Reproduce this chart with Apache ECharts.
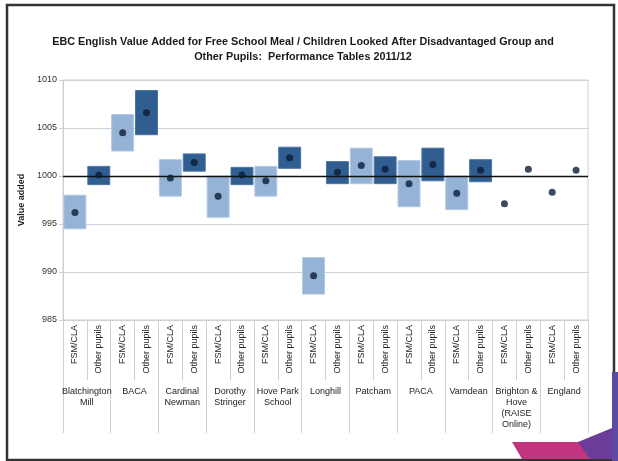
<!DOCTYPE html>
<html>
<head>
<meta charset="utf-8">
<script src="https://cdn.jsdelivr.net/npm/echarts@6/dist/echarts.min.js"></script>
<style>
  html, body { margin: 0; padding: 0; background: #fff; }
  #chart { width: 618px; height: 461px; }
</style>
</head>
<body>
<div id="chart"></div>
<script>
// categories
const groups = ['Blatchington\nMill', 'BACA', 'Cardinal\nNewman', 'Dorothy\nStringer', 'Hove Park\nSchool',
  'Longhill', 'Patcham', 'PACA', 'Varndean', 'Brighton &\nHove\n(RAISE\nOnline)', 'England']
const subLabels = []
groups.forEach(function () { subLabels.push('FSM/CLA', 'Other pupils') })

// value added (dot) and confidence box low/high, in category order
const pointVals = [996.2, 1000.1, 1004.5, 1006.6, 999.8, 1001.4, 997.9, 1000.1, 999.5, 1001.9,
  989.6, 1000.4, 1001.1, 1000.7, 999.2, 1001.2, 998.2, 1000.6, 997.1, 1000.7, 998.3, 1000.6]
const lowVals = [994.5, 999.1, 1002.6, 1004.3, 997.9, 1000.5, 995.7, 999.1, 997.9, 1000.8,
  987.7, 999.2, 999.2, 999.2, 996.8, 999.5, 996.5, 999.4, null, null, null, null]
const highVals = [998.0, 1001.0, 1006.4, 1008.9, 1001.7, 1002.3, 1000.0, 1000.9, 1001.0, 1003.0,
  991.5, 1001.5, 1002.9, 1002.0, 1001.6, 1002.9, 1000.0, 1001.7, null, null, null, null]

const lightBlue = '#95b3d7'
const darkBlue = '#315e90'
const gridColor = '#c9d2da'

const boxData = []
lowVals.forEach(function (lo, i) {
  if (lo !== null) boxData.push([i, lo, highVals[i]])
})

const chart = echarts.init(document.getElementById('chart'))
chart.setOption({
  animation: false,
  title: {
    text: 'EBC English Value Added for Free School Meal / Children Looked After Disadvantaged Group and\nOther Pupils:  Performance Tables 2011/12',
    left: 298,
    textAlign: 'center',
    top: 30,
    textStyle: {
      fontFamily: '"Liberation Sans", Arial',
      fontSize: 10.8,
      fontWeight: 'bold',
      color: '#1a1a1a',
      lineHeight: 15
    }
  },
  grid: {
    left: 63, right: 30, top: 80, bottom: 141,
    show: true, borderColor: gridColor, borderWidth: 1
  },
  xAxis: [
    {
      type: 'category',
      data: subLabels,
      position: 'bottom',
      axisLine: { show: true, lineStyle: { color: gridColor } },
      axisTick: { show: true, interval: 0, length: 60, lineStyle: { color: gridColor } },
      axisLabel: {
        interval: 0, rotate: 90, margin: 5,
        fontFamily: '"Liberation Sans", Arial', fontSize: 9, color: '#222'
      }
    },
    {
      type: 'category',
      data: groups,
      position: 'bottom',
      axisLine: { show: false },
      axisTick: { show: true, interval: 0, length: 113, lineStyle: { color: gridColor } },
      axisLabel: {
        interval: 0, margin: 66, verticalAlign: 'top',
        fontFamily: '"Liberation Sans", Arial', fontSize: 9, color: '#222', lineHeight: 11
      }
    }
  ],
  yAxis: {
    type: 'value',
    min: 985, max: 1010, interval: 5,
    name: 'Value added',
    nameLocation: 'middle',
    nameGap: 34,
    nameRotate: 90,
    nameTextStyle: { fontFamily: '"Liberation Sans", Arial', fontSize: 9, fontWeight: 'bold', color: '#222' },
    axisLine: { show: true, lineStyle: { color: gridColor } },
    axisTick: { show: true, length: 4, lineStyle: { color: gridColor } },
    axisLabel: {
      fontFamily: '"Liberation Sans", Arial', fontSize: 9, color: '#333', margin: 6,
      formatter: function (v) { return String(v) }
    },
    splitLine: { lineStyle: { color: gridColor } }
  },
  series: [
    {
      type: 'custom',
      xAxisIndex: 0,
      data: boxData,
      encode: { x: 0, y: [1, 2] },
      renderItem: function (params, api) {
        const idx = api.value(0)
        const top = api.coord([idx, api.value(2)])
        const bot = api.coord([idx, api.value(1)])
        const w = api.size([1, 0])[0] * 0.92
        const fill = idx % 2 === 0 ? lightBlue : darkBlue
        return {
          type: 'rect',
          shape: { x: top[0] - w / 2, y: top[1], width: w, height: bot[1] - top[1] },
          style: { fill: fill, stroke: idx % 2 === 0 ? '#b3c9e4' : '#4a74a4', lineWidth: 1 }
        }
      }
    },
    {
      type: 'scatter',
      xAxisIndex: 0,
      data: pointVals,
      symbolSize: 7,
      itemStyle: { color: '#0b1d36' },
      z: 5,
      markLine: {
        silent: true,
        symbol: 'none',
        label: { show: false },
        lineStyle: { color: '#111', width: 1.3, type: 'solid' },
        data: [{ yAxis: 1000 }]
      }
    }
  ],
  graphic: [
    {
      type: 'rect',
      shape: { x: 7, y: 5, width: 607, height: 455 },
      style: { fill: 'none', stroke: '#333', lineWidth: 2.5 },
      z: 10
    },
    {
      type: 'polygon',
      shape: { points: [[512, 442], [600, 442], [612, 459], [522, 459]] },
      style: { fill: '#c2357e' },
      z: 11
    },
    {
      type: 'polygon',
      shape: { points: [[578, 442], [612, 428], [612, 459], [590, 459]] },
      style: { fill: '#6b3d98' },
      z: 11
    },
    {
      type: 'rect',
      shape: { x: 612, y: 372, width: 6, height: 89 },
      style: { fill: '#5a4aa0' },
      z: 11
    }
  ]
})
</script>
</body>
</html>
